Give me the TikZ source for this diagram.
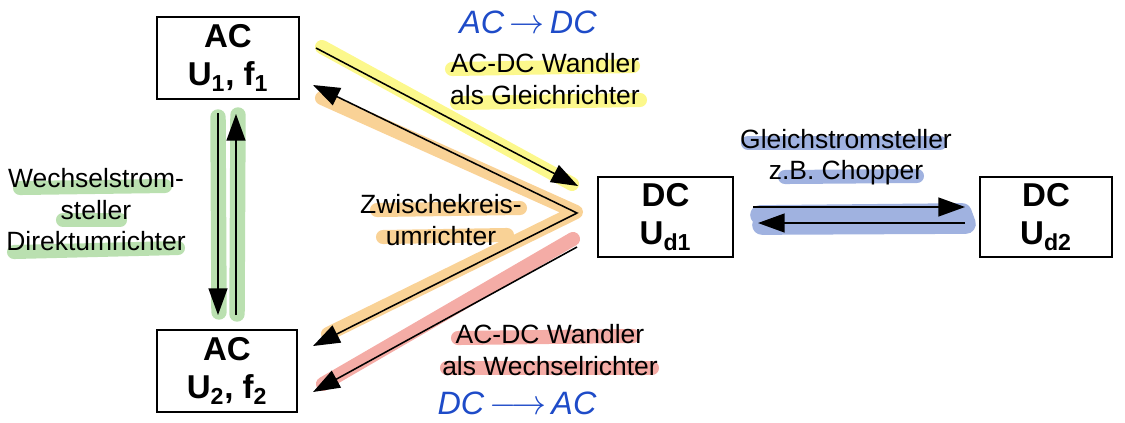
\documentclass[tikz,border=0pt]{standalone}
\usepackage{fontspec}
\setmainfont{Liberation Sans}
\usetikzlibrary{arrows.meta}

\definecolor{hlyellow}{RGB}{252,248,140}
\definecolor{hlorange}{RGB}{249,210,150}
\definecolor{hlred}{RGB}{244,172,166}
\definecolor{hlgreen}{RGB}{186,224,176}
\definecolor{hlblue}{RGB}{160,178,224}
\definecolor{pen}{RGB}{30,75,200}

\tikzset{
  box/.style={draw, line width=1.4pt, align=center, inner sep=0pt,
    font=\fontsize{23.5}{27}\selectfont\bfseries},
  lbl/.style={align=center, font=\fontsize{18.8}{22.4}\selectfont},
  hand/.style={text=pen, font=\fontsize{23}{27}\selectfont\itshape},
  tip/.tip={Triangle[length=19pt, width=13.5pt]},
  conv/.style={line width=1.1pt, -tip},
  hl/.style={line width=10pt, line cap=round, line join=round},
}

\begin{document}
\begin{tikzpicture}[x=0.025cm, y=-0.025cm]
  \useasboundingbox (0,0) rectangle (1125,422);

  % Markierungen (Textmarker)
  \draw[hl, hlyellow] (322,47) -- (572,184);
  \draw[hl, hlyellow] (452,69) -- (633,66);
  \draw[hl, hlyellow] (457,103) -- (640,100);
  \draw[hl, hlorange] (322,98) -- (576,212) -- (328,334);
  \draw[hl, hlorange] (377,210) -- (520,208);
  \draw[hl, hlorange] (383,237) -- (507,235);
  \draw[hl, hlred] (573,239) -- (323,384);
  \draw[hl, hlred] (458,338) -- (633,336);
  \draw[hl, hlred] (447,368) -- (652,368);
  \draw[hl, hlgreen, line width=11pt] (218,117) -- (219,312);
  \draw[hl, hlgreen, line width=11pt] (238,115) -- (237,314);
  \draw[hl, hlgreen] (20,188) -- (165,186);
  \draw[hl, hlgreen] (63,220) -- (120,220);
  \draw[hl, hlgreen] (14,252) -- (178,248);
  \draw[hl, hlblue] (748,143) -- (940,143);
  \draw[hl, hlblue] (785,177) -- (917,176);
  \draw[hl, hlblue, line width=14pt] (760,215) -- (962,213) -- (966,224) -- (762,225);

  % Spannungssysteme
  \node[box, minimum width=3.55cm, minimum height=2.05cm] (ac1) at (228,58) {AC\\U\textsubscript{1}, f\textsubscript{1}};
  \node[box, minimum width=3.5cm, minimum height=2.03cm] (ac2) at (227,371) {AC\\U\textsubscript{2}, f\textsubscript{2}};
  \node[box, minimum width=3.38cm, minimum height=2cm] (dc1) at (665.5,217) {DC\\U\textsubscript{d1}};
  \node[box, minimum width=3.3cm, minimum height=2cm] (dc2) at (1046,217) {DC\\U\textsubscript{d2}};

  % Enden der Pfeile
  \coordinate (g1) at (316,48);
  \coordinate (g2) at (578,186);
  \coordinate (z1) at (313,85);
  \coordinate (zm) at (577,213);
  \coordinate (z2) at (313,346);
  \coordinate (w1) at (577,247);
  \coordinate (w2) at (313,392);
  \coordinate (d1) at (218,113);
  \coordinate (d2) at (218,315);
  \coordinate (u1) at (236,315);
  \coordinate (u2) at (236,114);
  \coordinate (c1) at (753,207);
  \coordinate (c2) at (965,207);
  \coordinate (c3) at (965,223);
  \coordinate (c4) at (758,223);

  \draw[conv] (g1) -- (g2);
  \draw[conv, tip-tip] (z1) -- (zm) -- (z2);
  \draw[conv] (w1) -- (w2);
  \draw[conv] (d1) -- (d2);
  \draw[conv] (u1) -- (u2);
  \draw[conv] (c1) -- (c2);
  \draw[conv] (c3) -- (c4);

  % Beschriftungen
  \node[lbl] (gleich) at (545,79) {AC-DC Wandler\\als Gleichrichter};
  \node[lbl] (zwisch) at (441,220) {Zwischekreis-\\umrichter};
  \node[lbl] (wechselr) at (550,350) {AC-DC Wandler\\als Wechselrichter};
  \node[lbl] (direkt) at (96,210) {Wechselstrom-\\steller\\Direktumrichter};
  \node[lbl] (chopper) at (846,157) {Gleichstromsteller\\z.B. Chopper};
  \node[hand] (acdc) at (528,22) {AC\,$\rightarrow$\,DC};
  \node[hand] (dcac) at (517,403) {DC\,$\longrightarrow$\,AC};
\end{tikzpicture}
\end{document}
